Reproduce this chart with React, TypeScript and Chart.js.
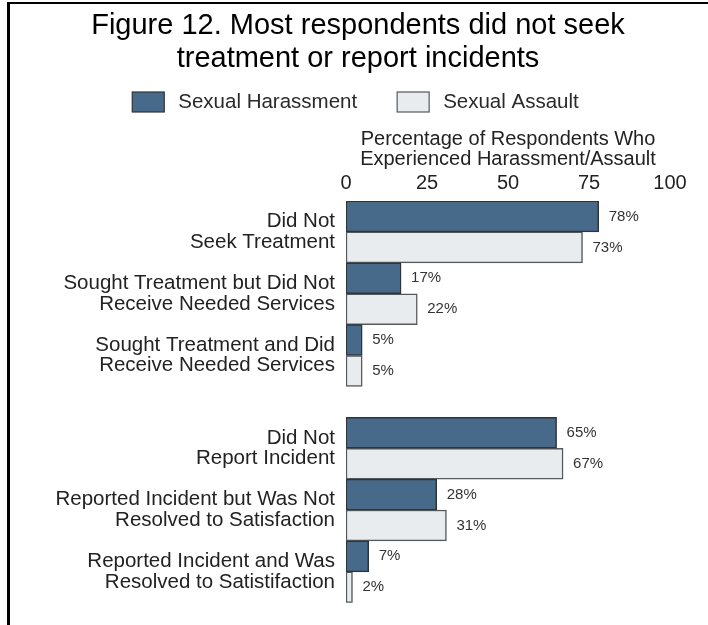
import React, { useEffect, useRef } from 'react';
import { Chart, registerables } from 'chart.js';

Chart.register(...registerables);

const FONT = "'Liberation Sans', Arial, Helvetica, sans-serif";

const titleLines = ['Figure 12. Most respondents did not seek', 'treatment or report incidents'];
const axisTitleLines = ['Percentage of Respondents Who', 'Experienced Harassment/Assault'];
const categories: string[][] = [
  ['Did Not', 'Seek Treatment'],
  ['Sought Treatment but Did Not', 'Receive Needed Services'],
  ['Sought Treatment and Did', 'Receive Needed Services'],
  ['Did Not', 'Report Incident'],
  ['Reported Incident but Was Not', 'Resolved to Satisfaction'],
  ['Reported Incident and Was', 'Resolved to Satistifaction'],
];
// category slots on the index axis (half-slot gap between the two groups)
const categoryPositions = [0, 1, 2, 3.5, 4.5, 5.5];
const seriesNames = ['Sexual Harassment', 'Sexual Assault'];
const harassment = [78, 17, 5, 65, 28, 7];
const assault = [73, 22, 5, 67, 31, 2];
const xTicks = [0, 25, 50, 75, 100];

const COLORS = {
  harassFill: '#476a8b',
  harassBorder: '#2f3438',
  assaultFill: '#e8ecee',
  assaultBorder: '#55595c',
  text: '#222222',
};

const PAD_LEFT = 46;
const PLOT_LEFT = 346;

const legendPlugin = {
  id: 'customLegend',
  afterDraw(chart: any) {
    const ctx = chart.ctx;
    const ds = chart.data.datasets;
    ctx.save();
    ctx.font = `20.5px ${FONT}`;
    const boxW = 32, boxH = 20, gapText = 14, gapItem = 40;
    const widths = ds.map((d: any) => ctx.measureText(d.label).width);
    let total = 0;
    ds.forEach((_: any, i: number) => {
      total += boxW + gapText + widths[i];
      if (i < ds.length - 1) total += gapItem;
    });
    let x = 355.5 - total / 2;
    const cy = 102;
    ds.forEach((d: any, i: number) => {
      ctx.fillStyle = d.backgroundColor;
      ctx.strokeStyle = d.borderColor;
      ctx.lineWidth = 1.2;
      ctx.fillRect(x, cy - boxH / 2, boxW, boxH);
      ctx.strokeRect(x, cy - boxH / 2, boxW, boxH);
      ctx.fillStyle = '#2a2a2a';
      ctx.textBaseline = 'middle';
      ctx.textAlign = 'left';
      ctx.fillText(d.label, x + boxW + gapText, cy);
      x += boxW + gapText + widths[i] + gapItem;
    });
    ctx.restore();
  },
};

const valueLabelPlugin = {
  id: 'valueLabels',
  afterDatasetsDraw(chart: any) {
    const ctx = chart.ctx;
    ctx.save();
    ctx.font = `15px ${FONT}`;
    ctx.fillStyle = '#333333';
    ctx.textAlign = 'left';
    ctx.textBaseline = 'middle';
    chart.data.datasets.forEach((d: any, di: number) => {
      const meta = chart.getDatasetMeta(di);
      meta.data.forEach((el: any, i: number) => {
        const v = d.data[i].x;
        ctx.fillText(`${v}%`, el.x + 10, el.y);
      });
    });
    ctx.restore();
  },
};

export default function App() {
  const ref = useRef<HTMLCanvasElement>(null);
  useEffect(() => {
    const toPoints = (vals: number[]) =>
      vals.map((v, i) => ({ x: v, y: categoryPositions[i] }));
    const chart = new Chart(ref.current as HTMLCanvasElement, {
      type: 'bar',
      data: {
        datasets: [
          {
            label: seriesNames[0],
            data: toPoints(harassment),
            backgroundColor: COLORS.harassFill,
            borderColor: COLORS.harassBorder,
            borderWidth: 1.5,
            borderSkipped: false,
            barPercentage: 1,
            categoryPercentage: 1,
          },
          {
            label: seriesNames[1],
            data: toPoints(assault),
            backgroundColor: COLORS.assaultFill,
            borderColor: COLORS.assaultBorder,
            borderWidth: 1.5,
            borderSkipped: false,
            barPercentage: 1,
            categoryPercentage: 1,
          },
        ] as any,
      },
      options: {
        indexAxis: 'y',
        responsive: false,
        animation: false,
        events: [],
        layout: { padding: { left: PAD_LEFT, right: 38, top: 0, bottom: 22.3 } },
        plugins: {
          legend: { display: false },
          tooltip: { enabled: false },
          title: {
            display: true,
            text: titleLines,
            color: '#000',
            font: { family: FONT, size: 29, weight: 'normal', lineHeight: 1.13 },
            padding: { top: 10, bottom: 53.5 },
          },
        },
        scales: {
          x: {
            type: 'linear',
            position: 'top',
            min: 0,
            max: 100,
            offset: false,
            afterBuildTicks: (s: any) => {
              s.ticks = xTicks.map((v) => ({ value: v }));
            },
            grid: { display: false, drawTicks: false, tickLength: 0 },
            border: { display: false },
            ticks: {
              color: COLORS.text,
              font: { family: FONT, size: 20, lineHeight: 1.2 },
              padding: 6,
              maxRotation: 0,
              autoSkip: false,
            },
            title: {
              display: true,
              text: axisTitleLines,
              color: COLORS.text,
              font: { family: FONT, size: 20, lineHeight: 1.0 },
              padding: { top: 0, bottom: -4 },
            },
          },
          y: {
            type: 'linear',
            reverse: true,
            offset: false,
            min: -0.5,
            max: 6,
            afterBuildTicks: (s: any) => {
              s.ticks = categoryPositions.map((v) => ({ value: v }));
            },
            afterFit: (s: any) => {
              s.width = PLOT_LEFT - PAD_LEFT;
              s.paddingTop = 0;
              s.paddingBottom = 0;
            },
            grid: { display: false, drawTicks: false, tickLength: 0, offset: false },
            border: { display: false },
            ticks: {
              color: COLORS.text,
              font: { family: FONT, size: 20.5, lineHeight: 1.0 },
              padding: 11,
              autoSkip: false,
              callback: (_v: any, i: number) => categories[i],
            },
          },
        },
      } as any,
      plugins: [legendPlugin, valueLabelPlugin],
    });
    return () => chart.destroy();
  }, []);

  return (
    <div style={{ position: 'absolute', left: 0, top: 0, width: 708, height: 625, background: '#fff', overflow: 'hidden' }}>
      <div style={{ position: 'absolute', left: 7, top: 2, width: 701, height: 2, background: '#000' }} />
      <div style={{ position: 'absolute', left: 7, top: 2, width: 3, height: 623, background: '#000' }} />
      <canvas
        ref={ref}
        width={708}
        height={625}
        style={{ position: 'absolute', left: 0, top: 0, width: 708, height: 625 }}
      />
    </div>
  );
}
